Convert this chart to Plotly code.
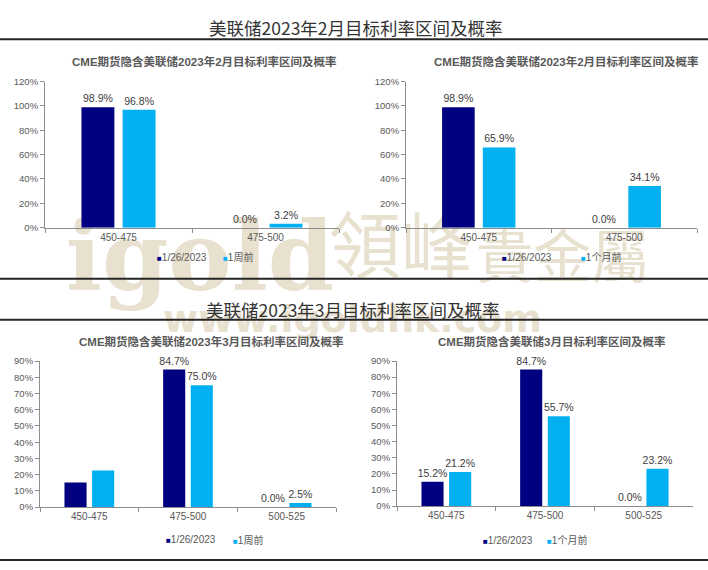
import plotly.graph_objs as go

# data
feb_ranges = ['450-475', '475-500']
feb_now = [98.9, 0.0]
feb_1w = [96.8, 3.2]
feb_1m = [65.9, 34.1]

mar_ranges = ['450-475', '475-500', '500-525']
mar_now = [15.2, 84.7, 0.0]
mar_1w = [22.5, 75.0, 2.5]
mar_1m = [15.2, 84.7, 0.0]
mar_1m_prev = [21.2, 55.7, 23.2]
mar_left_show = [False, True, True]  # left March chart has no labels on 450-475

now_name = '1/26/2023'
week_name = '1周前'
month_name = '1个月前'

NAVY = '#000080'
CYAN = '#00B0F0'
W, H = 708, 570
FONT = 'Liberation Sans, Arial, Noto Sans CJK SC'
CJK = 'Noto Sans CJK SC'


def px(x):
    return x / W


def py(y):
    return 1 - y / H


def labels(vals, show=None):
    if show is None:
        show = [True] * len(vals)
    return ['%.1f%%' % v if s else '' for v, s in zip(vals, show)]


def bar(cats, vals, name, color, ax, show=None):
    return go.Bar(x=cats, y=vals, name=name, marker=dict(color=color, line=dict(width=0)),
                  text=labels(vals, show), textposition='outside', constraintext='none',
                  cliponaxis=False, textfont=dict(size=10.5, color='#404040', family=FONT),
                  xaxis='x' + ax, yaxis='y' + ax, showlegend=False)


data = [
    bar(feb_ranges, feb_now, now_name, NAVY, ''),
    bar(feb_ranges, feb_1w, week_name, CYAN, ''),
    bar(feb_ranges, feb_now, now_name, NAVY, '2'),
    bar(feb_ranges, feb_1m, month_name, CYAN, '2'),
    bar(mar_ranges, mar_now, now_name, NAVY, '3', mar_left_show),
    bar(mar_ranges, mar_1w, week_name, CYAN, '3', mar_left_show),
    bar(mar_ranges, mar_1m, now_name, NAVY, '4'),
    bar(mar_ranges, mar_1m_prev, month_name, CYAN, '4'),
]

tick_font = dict(size=9.5, color='#595959', family=FONT)


def xax(x0, x1, yname):
    return dict(domain=[px(x0), px(x1)], anchor=yname, type='category', showline=True,
                linecolor='#8c8c8c', linewidth=1, ticks='outside', tickson='boundaries',
                ticklen=4, tickcolor='#8c8c8c', showgrid=False,
                tickfont=dict(size=10, color='#595959', family=FONT))


def yax(y0, y1, top, step, xname):
    return dict(domain=[py(y1), py(y0)], anchor=xname, range=[0, top], dtick=step,
                ticksuffix='%', showline=True, linecolor='#8c8c8c', linewidth=1,
                ticks='outside', ticklen=4, tickcolor='#8c8c8c', showgrid=False,
                zeroline=False, tickfont=tick_font)


annotations = []


def note(text, x, y, size, color, family=FONT, anchor='center'):
    annotations.append(dict(text=text, x=px(x), y=py(y), xref='paper', yref='paper',
                            showarrow=False, xanchor=anchor, yanchor='middle',
                            font=dict(size=size, color=color, family=family)))


# section headers
note('美联储2023年2月目标利率区间及概率', 356, 22, 17.5, '#333333', CJK)
note('美联储2023年3月目标利率区间及概率', 353, 309, 17.5, '#333333', CJK)

# chart titles
note('<b>CME期货隐含美联储2023年2月目标利率区间及概率</b>', 204, 57, 11.5, '#595959')
note('<b>CME期货隐含美联储2023年2月目标利率区间及概率</b>', 566, 57, 11.5, '#595959')
note('<b>CME期货隐含美联储2023年3月目标利率区间及概率</b>', 211, 342, 11.5, '#595959')
note('<b>CME期货隐含美联储3月目标利率区间及概率</b>', 552, 342, 11.5, '#595959')


def legend_item(name, color, x, y):
    note("<span style='color:%s;font-size:8px'>■</span>%s" % (color, name), x, y, 10,
         '#595959', anchor='left')


legend_item(now_name, NAVY, 155, 256)
legend_item(week_name, CYAN, 221, 256)
legend_item(now_name, NAVY, 500, 256)
legend_item(month_name, CYAN, 579, 256)
legend_item(now_name, NAVY, 164, 544)
legend_item(week_name, CYAN, 231, 544)
legend_item(now_name, NAVY, 481, 545)
legend_item(month_name, CYAN, 545, 545)

shapes = []
for yy in [34, 278, 320, 565]:
    shapes.append(dict(type='line', xref='paper', yref='paper', x0=0, x1=1,
                       y0=py(yy), y1=py(yy), line=dict(color='#262626', width=2)))


def mark(text, x0, x1, y0, y1, size, family):
    shapes.append(dict(type='rect', xref='paper', yref='paper', layer='below',
                       x0=px(x0), x1=px(x1), y0=py(y1), y1=py(y0),
                       line=dict(width=0), fillcolor='rgba(0,0,0,0)',
                       label=dict(text=text, textposition='middle center',
                                  font=dict(size=size, color='#E8E1CF', family=family))))


# igold watermark behind the charts
mark('<b>igold</b>', 60, 340, 206, 292, 95, 'DejaVu Serif')
mark('領峰', 330, 472, 212, 290, 72, CJK)
mark('貴金屬', 470, 655, 232, 290, 58, CJK)
mark('<b>www.igoldhk.com</b>', 160, 545, 303, 330, 38, 'DejaVu Sans')

layout = go.Layout(
    width=W, height=H, margin=dict(l=0, r=0, t=0, b=0),
    paper_bgcolor='white', plot_bgcolor='rgba(0,0,0,0)',
    barmode='group', bargap=0.44, bargroupgap=0.2,
    font=dict(family=FONT),
    xaxis=xax(45, 339, 'y'), yaxis=yax(77, 226, 120, 20, 'x'),
    xaxis2=xax(406, 697, 'y2'), yaxis2=yax(77, 226, 120, 20, 'x2'),
    xaxis3=xax(40, 336, 'y3'), yaxis3=yax(362, 511, 90, 10, 'x3'),
    xaxis4=xax(397, 693, 'y4'), yaxis4=yax(362, 510, 90, 10, 'x4'),
    annotations=annotations, shapes=shapes)

fig = go.Figure(data=data, layout=layout)
fig.write_html('out.html', config={'displayModeBar': False},
               post_script="document.body.style.margin='0';")
